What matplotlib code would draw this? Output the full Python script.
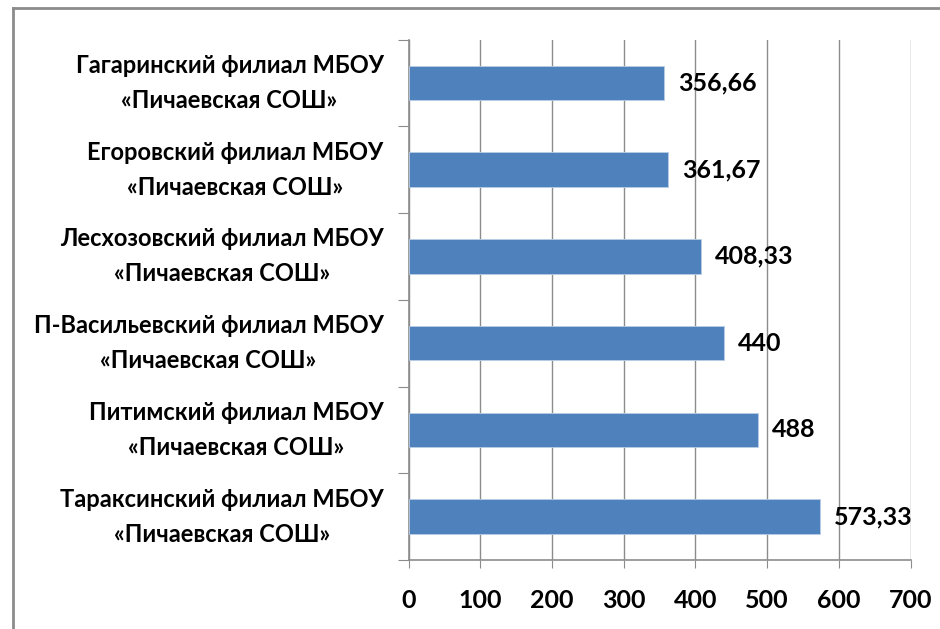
import matplotlib
matplotlib.use("Agg")
import matplotlib.pyplot as plt
from matplotlib.lines import Line2D
from matplotlib.transforms import offset_copy

plt.rcParams['font.family'] = ['Lato', 'DejaVu Sans']

categories = [
    "Гагаринский филиал МБОУ\n«Пичаевская СОШ»",
    "Егоровский филиал МБОУ\n«Пичаевская СОШ»",
    "Лесхозовский филиал МБОУ\n«Пичаевская СОШ»",
    "П-Васильевский филиал МБОУ\n«Пичаевская СОШ»",
    "Питимский филиал МБОУ\n«Пичаевская СОШ»",
    "Тараксинский филиал МБОУ\n«Пичаевская СОШ»",
]
values = [356.66, 361.67, 408.33, 440, 488, 573.33]
value_labels = ["356,66", "361,67", "408,33", "440", "488", "573,33"]
xticks = [0, 100, 200, 300, 400, 500, 600, 700]

W = 'bold'
fig = plt.figure(figsize=(9.4, 6.29), dpi=100)
# outer chart border (top and left visible)
fig.add_artist(Line2D([13/940, 13/940], [0, 1 - 8/629], transform=fig.transFigure,
                      color="#8c8c8c", lw=2))
fig.add_artist(Line2D([13/940, 1], [1 - 8/629, 1 - 8/629], transform=fig.transFigure,
                      color="#8c8c8c", lw=2))

ax = fig.add_axes([408.5/940, 1 - 560/629, (910.5 - 408.5)/940, (560 - 39.5)/629])
n = len(categories)
pos = list(range(n))
ax.barh(pos, values, height=0.4, color="#4F81BD", edgecolor="#B9CDE5", linewidth=0.6, zorder=3)
ax.set_ylim(n - 0.5, -0.5)
ax.set_xlim(0, 700)
ax.set_xticks(xticks)
ax.set_xticklabels([str(t) for t in xticks], fontsize=18, fontweight=W)
ax.grid(axis='x', color="#8c8c8c", lw=1, zorder=0)
for s in ['top', 'right']:
    ax.spines[s].set_visible(False)
for s in ['left', 'bottom']:
    ax.spines[s].set_color("#8c8c8c")
    ax.spines[s].set_linewidth(1.2)
ax.tick_params(axis='x', length=6, color="#8c8c8c", pad=15)

# category labels at centers, tick marks at boundaries
ax.set_yticks([p - 0.5 for p in pos] + [n - 0.5])
ax.set_yticklabels([])
ax.tick_params(axis='y', length=8, color="#8c8c8c")
lab_tr = offset_copy(ax.get_yaxis_transform(), fig=fig, x=-25, y=0, units='dots')
for p, c in zip(pos, categories):
    ax.text(0, p, c, transform=lab_tr,
            ha='right', va='center', multialignment='center', fontsize=17,
            fontweight=W, linespacing=1.62)

for p, v, lab in zip(pos, values, value_labels):
    ax.annotate(lab, (v, p), xytext=(10, 0), textcoords='offset points',
                ha='left', va='center', fontsize=18, fontweight=W)

fig.savefig("out.png", dpi=100)
